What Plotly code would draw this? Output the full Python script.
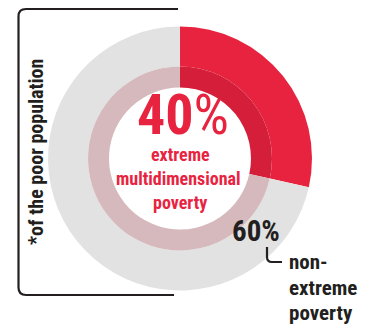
import plotly.graph_objects as go

# Data (arc shares estimated from the drawn wedge; labels as printed)
categories = ["extreme multidimensional poverty", "non-extreme poverty"]
label_values = ["40", "60"]
arc_shares = [28.5, 71.5]

outer_colors = ["#e8233f", "#e2e2e2"]
inner_colors = ["#d51f3a", "#d6b9bd"]

W, H = 374, 325
cx, cy = 180, 158.5
R_out, R_mid, R_in = 132, 92, 71

def dom(r):
    return dict(x=[(cx - r) / W, (cx + r) / W], y=[(H - cy - r) / H, (H - cy + r) / H])

fig = go.Figure()
fig.add_trace(go.Pie(labels=categories, values=arc_shares, hole=R_mid / R_out,
                     sort=False, direction="clockwise", rotation=0,
                     marker=dict(colors=outer_colors, line=dict(width=0)),
                     textinfo="none", hoverinfo="skip", showlegend=False,
                     domain=dom(R_out)))
fig.add_trace(go.Pie(labels=categories, values=arc_shares, hole=R_in / R_mid,
                     sort=False, direction="clockwise", rotation=0,
                     marker=dict(colors=inner_colors, line=dict(width=0)),
                     textinfo="none", hoverinfo="skip", showlegend=False,
                     domain=dom(R_mid)))

font_c = "Roboto Condensed, Roboto, sans-serif"
dark = "#231f20"
red = "#e8233f"

ann = [
    dict(x=183, y=115, text="<b>" + label_values[0] + "</b>%", font=dict(family=font_c, size=56, color=red)),
    dict(x=180, y=154, text="<b>extreme</b>", font=dict(family=font_c, size=18, color=red)),
    dict(x=178, y=178, text="<b>multidimensional</b>", font=dict(family=font_c, size=18, color=red)),
    dict(x=180, y=202, text="<b>poverty</b>", font=dict(family=font_c, size=18, color=red)),
    dict(x=256, y=231, text="<b>" + label_values[1] + "%</b>", font=dict(family=font_c, size=29, color=dark)),
    dict(x=287, y=262, text="<b>non-</b>", xanchor="left", font=dict(family=font_c, size=21, color=dark)),
    dict(x=287, y=288, text="<b>extreme</b>", xanchor="left", font=dict(family=font_c, size=21, color=dark)),
    dict(x=287, y=313, text="<b>poverty</b>", xanchor="left", font=dict(family=font_c, size=21, color=dark)),
    dict(x=36, y=152, text="<b>*of the poor population</b>", textangle=-90,
         font=dict(family=font_c, size=20, color=dark)),
]
annotations = []
for a in ann:
    d = dict(xref="x", yref="y", showarrow=False, xanchor=a.pop("xanchor", "center"), yanchor="middle")
    d.update(a)
    annotations.append(d)

shapes = [
    dict(type="path", xref="x", yref="y",
         path="M 178 9 L 26 9 Q 18.5 9 18.5 16.5 L 18.5 287.5 Q 18.5 295 26 295 L 174 295",
         line=dict(color=dark, width=2.2)),
    dict(type="path", xref="x", yref="y",
         path="M 267 247 L 267 257 Q 267 262 272 262 L 282 262",
         line=dict(color=dark, width=2.2)),
]

fig.update_layout(
    width=W, height=H, margin=dict(l=0, r=0, t=0, b=0),
    paper_bgcolor="white", plot_bgcolor="rgba(0,0,0,0)",
    xaxis=dict(range=[0, W], visible=False, domain=[0, 1], fixedrange=True),
    yaxis=dict(range=[H, 0], visible=False, domain=[0, 1], fixedrange=True),
    annotations=annotations, shapes=shapes,
)
fig.write_html("out.html", config={"displayModeBar": False},
               post_script="document.body.style.margin='0';document.body.style.padding='0';")
